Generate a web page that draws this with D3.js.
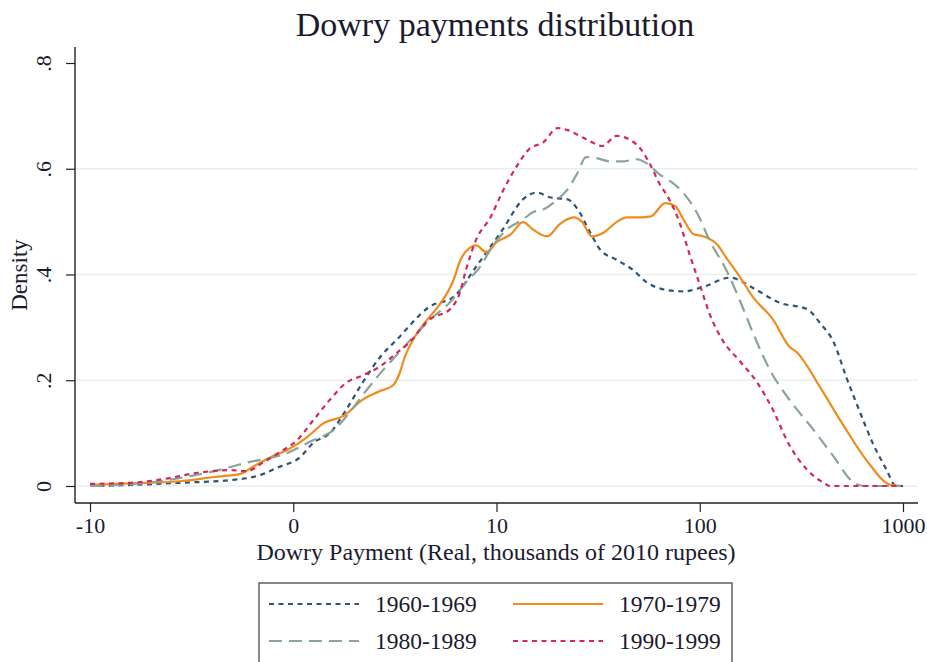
<!DOCTYPE html>
<html>
<head>
<meta charset="utf-8">
<script src="https://cdn.jsdelivr.net/npm/d3@7"></script>
<style>
body { margin: 0; background: #fff; }
text { font-family: "Liberation Serif", "DejaVu Serif", serif; fill: #1b1b2f; }
</style>
</head>
<body>
<svg id="chart" width="927" height="662"></svg>
<script>
// x is the position on the (log-like) payment axis: -1 = -10, 0 = 0, 1 = 10, 2 = 100, 3 = 1000
var xTickPos = [-1, 0, 1, 2, 3];
var xTickLabels = ["-10", "0", "10", "100", "1000"];
var yTicks = [0, 0.2, 0.4, 0.6, 0.8];
var yTickLabels = ["0", ".2", ".4", ".6", ".8"];
var yGrid = [0, 0.2, 0.4, 0.6];

var decades = ["1960-1969", "1970-1979", "1980-1989", "1990-1999"];

var d1960 = [[-1.00,0],[-0.80,0.002],[-0.56,0.006],[-0.31,0.011],[-0.16,0.021],[-0.07,0.036],[0.03,0.053],
    [0.10,0.082],[0.18,0.100],[0.26,0.144],[0.34,0.195],[0.43,0.245],[0.51,0.277],[0.67,0.339],[0.79,0.358],
    [0.90,0.415],[1.03,0.485],[1.13,0.542],[1.20,0.555],[1.26,0.546],[1.35,0.542],[1.40,0.523],[1.46,0.480],
    [1.51,0.447],[1.59,0.428],[1.67,0.409],[1.74,0.385],[1.82,0.372],[1.92,0.368],[2.02,0.377],[2.15,0.394],
    [2.26,0.375],[2.39,0.347],[2.53,0.334],[2.59,0.309],[2.66,0.271],[2.72,0.207],[2.79,0.138],[2.85,0.082],
    [2.92,0.030],[2.96,0.002],[3.00,0]];

var d1970 = [[-1.00,0.002],[-0.72,0.006],[-0.56,0.009],[-0.39,0.017],[-0.26,0.023],[-0.20,0.036],[-0.11,0.055],
    [-0.03,0.068],[0.07,0.093],[0.15,0.119],[0.25,0.133],[0.34,0.163],[0.43,0.180],[0.49,0.190],[0.52,0.210],
    [0.55,0.245],[0.59,0.277],[0.66,0.315],[0.72,0.343],[0.79,0.391],[0.82,0.425],[0.87,0.451],[0.90,0.455],
    [0.95,0.442],[1.00,0.461],[1.07,0.476],[1.13,0.499],[1.18,0.485],[1.25,0.472],[1.31,0.495],[1.38,0.508],
    [1.42,0.500],[1.47,0.472],[1.53,0.480],[1.59,0.499],[1.64,0.508],[1.71,0.508],[1.76,0.510],[1.83,0.535],
    [1.88,0.529],[1.92,0.504],[1.97,0.476],[2.02,0.472],[2.09,0.455],[2.13,0.432],[2.20,0.394],[2.26,0.358],
    [2.36,0.315],[2.44,0.264],[2.48,0.252],[2.59,0.188],[2.70,0.119],[2.82,0.049],[2.94,0.002],[2.99,0]];

var d1980 = [[-1.00,0],[-0.72,0.006],[-0.56,0.015],[-0.39,0.028],[-0.23,0.044],[-0.04,0.061],[0.10,0.087],
    [0.20,0.106],[0.26,0.131],[0.35,0.176],[0.43,0.214],[0.51,0.248],[0.59,0.282],[0.69,0.320],[0.77,0.347],
    [0.85,0.385],[0.92,0.415],[0.98,0.453],[1.05,0.485],[1.13,0.504],[1.18,0.518],[1.23,0.523],[1.30,0.542],
    [1.35,0.561],[1.40,0.593],[1.44,0.622],[1.49,0.620],[1.56,0.614],[1.62,0.614],[1.69,0.618],[1.74,0.610],
    [1.80,0.590],[1.85,0.578],[1.92,0.554],[1.99,0.514],[2.05,0.463],[2.13,0.409],[2.21,0.339],[2.27,0.282],
    [2.35,0.216],[2.43,0.169],[2.56,0.106],[2.66,0.055],[2.75,0.009],[2.81,0],[2.99,0]];

var d1990 = [[-1.00,0.004],[-0.80,0.006],[-0.64,0.013],[-0.47,0.025],[-0.31,0.030],[-0.23,0.028],[-0.15,0.044],
    [-0.07,0.063],[0.02,0.087],[0.10,0.125],[0.18,0.163],[0.26,0.195],[0.34,0.209],[0.43,0.227],[0.51,0.252],
    [0.57,0.271],[0.67,0.315],[0.77,0.334],[0.82,0.366],[0.85,0.409],[0.90,0.466],[0.97,0.508],[1.03,0.557],
    [1.10,0.605],[1.16,0.637],[1.23,0.650],[1.30,0.677],[1.35,0.673],[1.41,0.662],[1.47,0.650],[1.52,0.643],
    [1.59,0.662],[1.66,0.654],[1.71,0.637],[1.76,0.605],[1.80,0.573],[1.85,0.542],[1.90,0.499],[1.95,0.438],
    [2.00,0.381],[2.05,0.324],[2.11,0.277],[2.20,0.235],[2.28,0.197],[2.36,0.144],[2.44,0.078],[2.53,0.030],
    [2.61,0.006],[2.64,0],[2.99,0]];

var seriesData = [d1960, d1970, d1980, d1990];
var colors = ["#2f5478", "#f08c1e", "#8aa498", "#d3285a"];
var dashes = ["5,4.5", null, "13,7", "5,4.5"];

var svg = d3.select("#chart");
var plot = { left: 75, right: 918, top: 47, bottom: 503 };

var x = d3.scaleLinear().domain([-1, 3]).range([90, 903]);
var y = d3.scaleLinear().domain([0, 0.8]).range([486, 63]);

// title
svg.append("text")
    .attr("x", 495).attr("y", 36)
    .attr("text-anchor", "middle")
    .style("font-size", "34px")
    .text("Dowry payments distribution");

// grid
svg.append("g").selectAll("line")
    .data(yGrid)
    .enter().append("line")
    .attr("x1", plot.left).attr("x2", plot.right)
    .attr("y1", function(d) { return y(d); })
    .attr("y2", function(d) { return y(d); })
    .attr("stroke", "#e7eff1")
    .attr("stroke-width", 1.6);

// axes
var yAxis = d3.axisLeft(y)
    .tickValues(yTicks)
    .tickSize(9)
    .tickFormat(function(d, i) { return yTickLabels[i]; });
var gy = svg.append("g").attr("transform", "translate(" + plot.left + ",0)").call(yAxis);
gy.select(".domain").attr("d", "M0," + plot.top + "V" + plot.bottom).attr("stroke", "#222").attr("stroke-width", 1.4);
gy.selectAll(".tick line").attr("stroke", "#222").attr("stroke-width", 1.2);
gy.selectAll(".tick text")
    .attr("x", null)
    .attr("transform", "translate(-31,0) rotate(-90)")
    .attr("text-anchor", "middle")
    .attr("dy", "0.32em")
    .style("font-size", "22px")
    .style("font-family", "Liberation Serif, serif")
    .attr("fill", "#1b1b2f");

var xAxis = d3.axisBottom(x)
    .tickValues(xTickPos)
    .tickSize(9)
    .tickFormat(function(d, i) { return xTickLabels[i]; });
var gx = svg.append("g").attr("transform", "translate(0," + plot.bottom + ")").call(xAxis);
gx.select(".domain").attr("d", "M" + plot.left + ",0H" + plot.right).attr("stroke", "#222").attr("stroke-width", 1.4);
gx.selectAll(".tick line").attr("stroke", "#222").attr("stroke-width", 1.2);
gx.selectAll(".tick text")
    .attr("y", 14)
    .style("font-size", "22px")
    .style("font-family", "Liberation Serif, serif")
    .attr("fill", "#1b1b2f");

// axis titles
svg.append("text")
    .attr("transform", "translate(27,275) rotate(-90)")
    .attr("text-anchor", "middle")
    .style("font-size", "23px")
    .text("Density");

svg.append("text")
    .attr("x", 496).attr("y", 560)
    .attr("text-anchor", "middle")
    .style("font-size", "24px")
    .text("Dowry Payment (Real, thousands of 2010 rupees)");

// curves
var line = d3.line()
    .x(function(d) { return x(d[0]); })
    .y(function(d) { return y(d[1]); })
    .curve(d3.curveMonotoneX);

svg.append("g").selectAll("path")
    .data(seriesData)
    .enter().append("path")
    .attr("d", line)
    .attr("fill", "none")
    .attr("stroke", function(d, i) { return colors[i]; })
    .attr("stroke-width", 2.2)
    .attr("stroke-dasharray", function(d, i) { return dashes[i]; });

// legend
var legend = svg.append("g");
legend.append("rect")
    .attr("x", 259).attr("y", 583)
    .attr("width", 473).attr("height", 100)
    .attr("fill", "#fff")
    .attr("stroke", "#555")
    .attr("stroke-width", 1.4);

var item = legend.selectAll(".item")
    .data(decades)
    .enter().append("g")
    .attr("class", "item")
    .attr("transform", function(d, i) {
        return "translate(" + (i % 2 === 0 ? 269 : 513) + "," + (i < 2 ? 604 : 641) + ")";
    });

item.append("line")
    .attr("x1", 0).attr("x2", 90)
    .attr("stroke", function(d, i) { return colors[i]; })
    .attr("stroke-width", 2.2)
    .attr("stroke-dasharray", function(d, i) { return dashes[i]; });

item.append("text")
    .attr("x", 106).attr("dy", "0.35em")
    .style("font-size", "23.5px")
    .text(function(d) { return d; });
</script>
</body>
</html>
